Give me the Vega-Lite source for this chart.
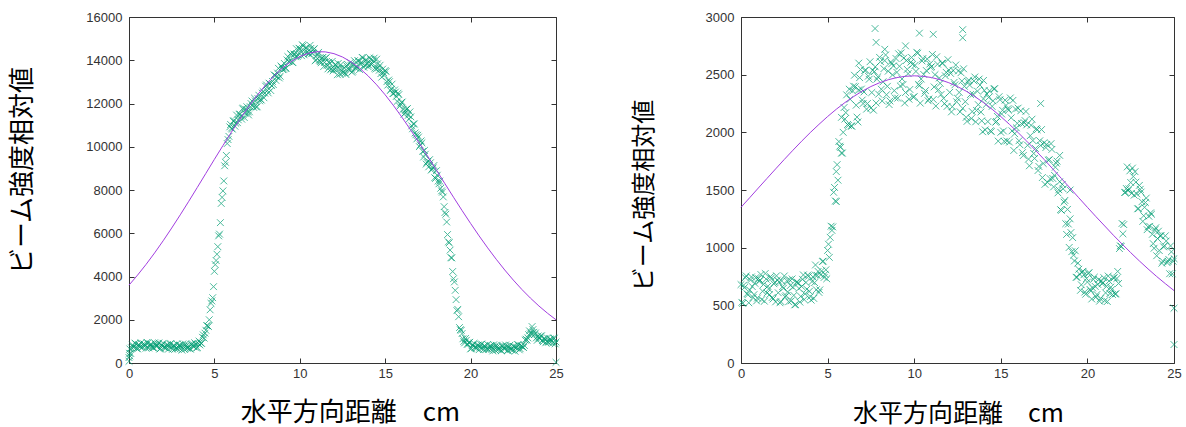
{
"$schema": "https://vega.github.io/schema/vega-lite/v6.json",
"autosize": {"type": "pad"},
"padding": {"left": 8, "top": 10, "right": 5, "bottom": 0},
"background": "white",
"spacing": 185,
"bounds": "flush",
"config": {
  "view": {"stroke": "#333", "strokeWidth": 1},
  "axis": {"grid": false, "domain": false, "labelFlush": false, "labelFont": "Liberation Sans", "labelFontSize": 13, "labelColor": "#333", "tickColor": "#333", "tickSize": -5, "tickWidth": 1, "titleFont": "Noto Sans CJK JP", "titleFontSize": 26, "titleFontWeight": "normal", "titleColor": "#000", "format": "d"}
},
"datasets": {
"L": [
{"x":0,"y":250},{"x":0,"y":80},{"x":0.03,"y":450},{"x":0.05,"y":650},{"x":0.1,"y":445},{"x":0.2,"y":835},{"x":0.3,"y":750},{"x":0.4,"y":880},{"x":0.5,"y":650},{"x":0.6,"y":820},{"x":0.7,"y":930},{"x":0.8,"y":740},{"x":0.9,"y":860},{"x":1.0,"y":685},{"x":1.1,"y":923},{"x":1.2,"y":770},{"x":1.3,"y":870},{"x":1.4,"y":700},{"x":1.5,"y":935},{"x":1.6,"y":768},{"x":1.7,"y":886},{"x":1.8,"y":644},{"x":1.9,"y":807},{"x":2.0,"y":910},{"x":2.1,"y":709},{"x":2.2,"y":823},{"x":2.3,"y":637},{"x":2.4,"y":871},{"x":2.5,"y":715},{"x":2.6,"y":816},{"x":2.7,"y":647},{"x":2.8,"y":883},{"x":2.9,"y":714},{"x":3.0,"y":830},{"x":3.1,"y":594},{"x":3.2,"y":763},{"x":3.3,"y":872},{"x":3.4,"y":681},{"x":3.5,"y":805},{"x":3.6,"y":637},{"x":3.7,"y":889},{"x":3.8,"y":751},{"x":3.9,"y":868},{"x":4.0,"y":715},{"x":4.1,"y":1015},{"x":4.2,"y":920},{"x":4.3,"y":1190},{"x":4.4,"y":1150},{"x":4.5,"y":1515},{"x":4.6,"y":1720},{"x":4.7,"y":2000},{"x":4.8,"y":2760},{"x":4.9,"y":3020},{"x":5.0,"y":4240},{"x":5.1,"y":4740},{"x":5.2,"y":5380},{"x":5.3,"y":5960},{"x":5.4,"y":7380},{"x":5.5,"y":7960},{"x":5.6,"y":9120},{"x":5.7,"y":9600},{"x":5.8,"y":10330},{"x":5.9,"y":10920},{"x":6.0,"y":10860},
{"x":6.1,"y":11185},{"x":6.2,"y":10950},{"x":6.3,"y":11465},{"x":6.4,"y":11245},{"x":6.5,"y":11510},{"x":6.6,"y":11275},{"x":6.7,"y":11790},{"x":6.8,"y":11555},{"x":6.9,"y":11850},{"x":7.0,"y":11470},{"x":7.1,"y":11850},{"x":7.2,"y":12115},{"x":7.3,"y":11820},{"x":7.4,"y":12115},{"x":7.5,"y":11850},{"x":7.6,"y":12385},{"x":7.7,"y":12195},{"x":7.8,"y":12480},{"x":7.9,"y":12265},{"x":8.0,"y":12800},{"x":8.1,"y":12605},{"x":8.2,"y":12940},{"x":8.3,"y":12600},{"x":8.4,"y":13020},{"x":8.5,"y":13325},{"x":8.6,"y":13070},{"x":8.7,"y":13405},{"x":8.8,"y":13180},{"x":8.9,"y":13735},{"x":9.0,"y":13565},{"x":9.1,"y":13850},{"x":9.2,"y":13635},{"x":9.3,"y":14170},{"x":9.4,"y":13955},{"x":9.5,"y":14270},{"x":9.6,"y":13890},{"x":9.7,"y":14270},{"x":9.8,"y":14535},{"x":9.9,"y":14240},{"x":10.0,"y":14535},{"x":10.1,"y":14210},{"x":10.2,"y":14665},{"x":10.3,"y":14395},{"x":10.4,"y":14600},{"x":10.5,"y":14305},{"x":10.6,"y":14690},{"x":10.7,"y":14325},{"x":10.8,"y":14490},{"x":10.9,"y":13980},{"x":11.0,"y":14230},{"x":11.1,"y":14365},{"x":11.2,"y":13940},{"x":11.3,"y":14105},{"x":11.4,"y":13710},{"x":11.5,"y":14095},{"x":11.6,"y":13765},{"x":11.7,"y":13910},{"x":11.8,"y":13555},{"x":11.9,"y":13950},{"x":12.0,"y":13595},
{"x":12.1,"y":13800},{"x":12.2,"y":13330},{"x":12.3,"y":13620},{"x":12.4,"y":13795},{"x":12.5,"y":13410},{"x":12.6,"y":13655},{"x":12.7,"y":13340},{"x":12.8,"y":13805},{"x":12.9,"y":13545},{"x":13.0,"y":13760},{"x":13.1,"y":13495},{"x":13.2,"y":13980},{"x":13.3,"y":13715},{"x":13.4,"y":13980},{"x":13.5,"y":13570},{"x":13.6,"y":13900},{"x":13.7,"y":14115},{"x":13.8,"y":13770},{"x":13.9,"y":14015},{"x":14.0,"y":13700},{"x":14.1,"y":14115},{"x":14.2,"y":13805},{"x":14.3,"y":13970},{"x":14.4,"y":13635},{"x":14.5,"y":14050},{"x":14.6,"y":13645},{"x":14.7,"y":13770},{"x":14.8,"y":13220},{"x":14.9,"y":13430},{"x":15.0,"y":13525},{"x":15.1,"y":13010},{"x":15.2,"y":13085},{"x":15.3,"y":12600},{"x":15.4,"y":12895},{"x":15.5,"y":12465},{"x":15.6,"y":12530},{"x":15.7,"y":12095},{"x":15.8,"y":12410},{"x":15.9,"y":11975},{"x":16.0,"y":12070},{"x":16.1,"y":11500},{"x":16.2,"y":11690},{"x":16.3,"y":11765},{"x":16.4,"y":11280},{"x":16.5,"y":11385},{"x":16.6,"y":10830},{"x":16.7,"y":11055},{"x":16.8,"y":10555},{"x":16.9,"y":10530},{"x":17.0,"y":10005},{"x":17.1,"y":10270},{"x":17.2,"y":9785},{"x":17.3,"y":9830},{"x":17.4,"y":9200},{"x":17.5,"y":9330},{"x":17.6,"y":9405},{"x":17.7,"y":8920},{"x":17.8,"y":9025},{"x":17.9,"y":8570},{"x":18.0,"y":8895},
{"x":18.1,"y":8415},{"x":18.2,"y":8410},{"x":18.3,"y":7960},{"x":18.4,"y":7680},{"x":18.5,"y":6960},{"x":18.6,"y":6520},{"x":18.7,"y":5600},{"x":18.8,"y":5220},{"x":18.9,"y":4860},{"x":19.0,"y":3900},{"x":19.1,"y":3360},{"x":19.2,"y":2420},{"x":19.3,"y":2140},{"x":19.4,"y":1540},{"x":19.5,"y":1360},{"x":19.6,"y":1000},{"x":19.7,"y":1135},{"x":19.8,"y":870},{"x":19.9,"y":940},{"x":20.0,"y":650},{"x":20.1,"y":810},{"x":20.2,"y":910},{"x":20.3,"y":705},{"x":20.4,"y":815},{"x":20.5,"y":615},{"x":20.6,"y":850},{"x":20.7,"y":695},{"x":20.8,"y":795},{"x":20.9,"y":623},{"x":21.0,"y":855},{"x":21.1,"y":686},{"x":21.2,"y":802},{"x":21.3,"y":558},{"x":21.4,"y":719},{"x":21.5,"y":820},{"x":21.6,"y":625},{"x":21.7,"y":745},{"x":21.8,"y":565},{"x":21.9,"y":805},{"x":22.0,"y":655},{"x":22.1,"y":756},{"x":22.2,"y":587},{"x":22.3,"y":823},{"x":22.4,"y":654},{"x":22.5,"y":770},{"x":22.6,"y":544},{"x":22.7,"y":723},{"x":22.8,"y":842},{"x":22.9,"y":661},{"x":23.0,"y":795},{"x":23.1,"y":715},{"x":23.2,"y":1055},{"x":23.3,"y":1055},{"x":23.4,"y":1310},{"x":23.5,"y":1345},{"x":23.6,"y":1685},{"x":23.7,"y":1420},{"x":23.8,"y":1390},{"x":23.9,"y":1050},{"x":24.0,"y":1165},{"x":24.1,"y":1250},{"x":24.2,"y":1035},{"x":24.3,"y":1135},{"x":24.4,"y":935},{"x":24.5,"y":1155},{"x":24.6,"y":995},{"x":24.7,"y":1090},{"x":24.8,"y":915},{"x":24.9,"y":1145},{"x":25.0,"y":970},{"x":25.0,"y":30},
{"x":0.05,"y":330},{"x":0.15,"y":700},{"x":0.25,"y":725},{"x":0.35,"y":920},{"x":0.45,"y":675},{"x":0.55,"y":847},{"x":0.65,"y":747},{"x":0.75,"y":721},{"x":0.85,"y":888},{"x":0.95,"y":802},{"x":1.05,"y":954},{"x":1.15,"y":696},{"x":1.25,"y":857},{"x":1.35,"y":747},{"x":1.45,"y":712},{"x":1.55,"y":874},{"x":1.65,"y":782},{"x":1.75,"y":930},{"x":1.85,"y":673},{"x":1.95,"y":836},{"x":2.05,"y":727},{"x":2.15,"y":691},{"x":2.25,"y":850},{"x":2.35,"y":754},{"x":2.45,"y":898},{"x":2.55,"y":638},{"x":2.65,"y":799},{"x":2.75,"y":690},{"x":2.85,"y":656},{"x":2.95,"y":817},{"x":3.05,"y":727},{"x":3.15,"y":881},{"x":3.25,"y":630},{"x":3.35,"y":799},{"x":3.45,"y":698},{"x":3.55,"y":676},{"x":3.65,"y":853},{"x":3.75,"y":775},{"x":3.85,"y":937},{"x":3.95,"y":694},{"x":4.05,"y":895},{"x":4.15,"y":835},{"x":4.25,"y":905},{"x":4.35,"y":1300},{"x":4.45,"y":1380},{"x":4.55,"y":1730},{"x":4.65,"y":1690},{"x":4.75,"y":2460},{"x":4.85,"y":2870},{"x":4.95,"y":3530},{"x":5.05,"y":4550},{"x":5.15,"y":5030},{"x":5.25,"y":5880},{"x":5.35,"y":6490},{"x":5.45,"y":7660},{"x":5.55,"y":8420},{"x":5.65,"y":9280},{"x":5.75,"y":10150},{"x":5.85,"y":10480},{"x":5.95,"y":11030},
{"x":6.05,"y":10816},{"x":6.15,"y":11204},{"x":6.25,"y":11088},{"x":6.35,"y":11112},{"x":6.45,"y":11500},{"x":6.55,"y":11407},{"x":6.65,"y":11757},{"x":6.75,"y":11351},{"x":6.85,"y":11729},{"x":6.95,"y":11603},{"x":7.05,"y":11617},{"x":7.15,"y":11995},{"x":7.25,"y":11897},{"x":7.35,"y":12247},{"x":7.45,"y":11841},{"x":7.55,"y":12229},{"x":7.65,"y":12123},{"x":7.75,"y":12157},{"x":7.85,"y":12555},{"x":7.95,"y":12477},{"x":8.05,"y":12857},{"x":8.15,"y":12491},{"x":8.25,"y":12909},{"x":8.35,"y":12823},{"x":8.45,"y":12877},{"x":8.55,"y":13295},{"x":8.65,"y":13237},{"x":8.75,"y":13627},{"x":8.85,"y":13261},{"x":8.95,"y":13679},{"x":9.05,"y":13583},{"x":9.15,"y":13617},{"x":9.25,"y":14015},{"x":9.35,"y":13937},{"x":9.45,"y":14307},{"x":9.55,"y":13911},{"x":9.65,"y":14289},{"x":9.75,"y":14163},{"x":9.85,"y":14177},{"x":9.95,"y":14555},{"x":10.05,"y":14427},{"x":10.15,"y":14717},{"x":10.25,"y":14251},{"x":10.35,"y":14569},{"x":10.45,"y":14383},{"x":10.55,"y":14302},{"x":10.65,"y":14550},{"x":10.75,"y":14322},{"x":10.85,"y":14542},{"x":10.95,"y":14006},{"x":11.05,"y":14254},{"x":11.15,"y":13998},{"x":11.25,"y":13882},{"x":11.35,"y":14130},{"x":11.45,"y":13902},{"x":11.55,"y":14127},{"x":11.65,"y":13601},{"x":11.75,"y":13859},{"x":11.85,"y":13613},{"x":11.95,"y":13507},
{"x":12.05,"y":13780},{"x":12.15,"y":13592},{"x":12.25,"y":13852},{"x":12.35,"y":13356},{"x":12.45,"y":13644},{"x":12.55,"y":13448},{"x":12.65,"y":13412},{"x":12.75,"y":13740},{"x":12.85,"y":13592},{"x":12.95,"y":13892},{"x":13.05,"y":13446},{"x":13.15,"y":13794},{"x":13.25,"y":13638},{"x":13.35,"y":13622},{"x":13.45,"y":13970},{"x":13.55,"y":13832},{"x":13.65,"y":14132},{"x":13.75,"y":13676},{"x":13.85,"y":14004},{"x":13.95,"y":13828},{"x":14.05,"y":13767},{"x":14.15,"y":14045},{"x":14.25,"y":13847},{"x":14.35,"y":14097},{"x":14.45,"y":13591},{"x":14.55,"y":13834},{"x":14.65,"y":13538},{"x":14.75,"y":13382},{"x":14.85,"y":13590},{"x":14.95,"y":13322},{"x":15.05,"y":13477},{"x":15.15,"y":12851},{"x":15.25,"y":13009},{"x":15.35,"y":12663},{"x":15.45,"y":12457},{"x":15.55,"y":12625},{"x":15.65,"y":12327},{"x":15.75,"y":12477},{"x":15.85,"y":11871},{"x":15.95,"y":12049},{"x":16.05,"y":11728},{"x":16.15,"y":11552},{"x":16.25,"y":11740},{"x":16.35,"y":11452},{"x":16.45,"y":11612},{"x":16.55,"y":10966},{"x":16.65,"y":11054},{"x":16.75,"y":10638},{"x":16.85,"y":10362},{"x":16.95,"y":10450},{"x":17.05,"y":10082},{"x":17.15,"y":10182},{"x":17.25,"y":9526},{"x":17.35,"y":9654},{"x":17.45,"y":9278},{"x":17.55,"y":9072},{"x":17.65,"y":9260},{"x":17.75,"y":8972},{"x":17.85,"y":9132},{"x":17.95,"y":8536},
{"x":18.05,"y":8684},{"x":18.15,"y":8288},{"x":18.25,"y":8080},{"x":18.35,"y":7900},{"x":18.45,"y":7230},{"x":18.55,"y":6880},{"x":18.65,"y":5940},{"x":18.75,"y":5560},{"x":18.85,"y":4870},{"x":18.95,"y":4230},{"x":19.05,"y":3750},{"x":19.15,"y":2930},{"x":19.25,"y":2480},{"x":19.35,"y":1640},{"x":19.45,"y":1510},{"x":19.55,"y":1120},{"x":19.65,"y":930},{"x":19.75,"y":1050},{"x":19.85,"y":860},{"x":19.95,"y":960},{"x":20.05,"y":678},{"x":20.15,"y":837},{"x":20.25,"y":725},{"x":20.35,"y":685},{"x":20.45,"y":835},{"x":20.55,"y":733},{"x":20.65,"y":878},{"x":20.75,"y":618},{"x":20.85,"y":777},{"x":20.95,"y":664},{"x":21.05,"y":628},{"x":21.15,"y":789},{"x":21.25,"y":695},{"x":21.35,"y":841},{"x":21.45,"y":582},{"x":21.55,"y":745},{"x":21.65,"y":640},{"x":21.75,"y":610},{"x":21.85,"y":775},{"x":21.95,"y":685},{"x":22.05,"y":833},{"x":22.15,"y":574},{"x":22.25,"y":735},{"x":22.35,"y":626},{"x":22.45,"y":592},{"x":22.55,"y":762},{"x":22.65,"y":686},{"x":22.75,"y":850},{"x":22.85,"y":609},{"x":22.95,"y":788},{"x":23.05,"y":740},{"x":23.15,"y":810},{"x":23.25,"y":1100},{"x":23.35,"y":1160},{"x":23.45,"y":1485},{"x":23.55,"y":1380},{"x":23.65,"y":1545},{"x":23.75,"y":1315},{"x":23.85,"y":1160},{"x":23.95,"y":1250},{"x":24.05,"y":1125},{"x":24.15,"y":1255},{"x":24.25,"y":980},{"x":24.35,"y":1125},{"x":24.45,"y":1000},{"x":24.55,"y":955},{"x":24.65,"y":1110},{"x":24.75,"y":1010},{"x":24.85,"y":1150},{"x":24.95,"y":885}
],
"Lfit": [
{"x":0,"y":3600},{"x":0.5,"y":4063},{"x":1,"y":4560},{"x":1.5,"y":5091},{"x":2,"y":5652},{"x":2.5,"y":6241},{"x":3,"y":6850},{"x":3.5,"y":7479},{"x":4,"y":8120},{"x":4.5,"y":8770},{"x":5,"y":9417},{"x":5.5,"y":10055},{"x":6,"y":10681},{"x":6.5,"y":11281},{"x":7,"y":11850},{"x":7.5,"y":12378},{"x":8,"y":12859},{"x":8.5,"y":13286},{"x":9,"y":13650},{"x":9.5,"y":13948},{"x":10,"y":14172},{"x":10.5,"y":14322},{"x":11,"y":14394},{"x":11.5,"y":14387},{"x":12,"y":14305},{"x":12.5,"y":14150},{"x":13,"y":13925},{"x":13.5,"y":13632},{"x":14,"y":13277},{"x":14.5,"y":12864},{"x":15,"y":12400},{"x":15.5,"y":11889},{"x":16,"y":11342},{"x":16.5,"y":10763},{"x":17,"y":10162},{"x":17.5,"y":9544},{"x":18,"y":8918},{"x":18.5,"y":8290},{"x":19,"y":7665},{"x":19.5,"y":7052},{"x":20,"y":6454},{"x":20.5,"y":5877},{"x":21,"y":5324},{"x":21.5,"y":4797},{"x":22,"y":4300},{"x":22.5,"y":3835},{"x":23,"y":3403},{"x":23.5,"y":3003},{"x":24,"y":2637},{"x":24.5,"y":2303},{"x":25,"y":2000}
],
"R": [
{"x":0.0,"y":680},{"x":0.1,"y":517},{"x":0.2,"y":654},{"x":0.3,"y":755},{"x":0.4,"y":592},{"x":0.5,"y":633},{"x":0.6,"y":746},{"x":0.7,"y":568},{"x":0.8,"y":691},{"x":0.9,"y":538},{"x":1.0,"y":732},{"x":1.1,"y":719},{"x":1.2,"y":550},{"x":1.3,"y":681},{"x":1.4,"y":776},{"x":1.5,"y":607},{"x":1.6,"y":642},{"x":1.7,"y":749},{"x":1.8,"y":568},{"x":1.9,"y":687},{"x":2.0,"y":530},{"x":2.1,"y":719},{"x":2.2,"y":704},{"x":2.3,"y":533},{"x":2.4,"y":662},{"x":2.5,"y":755},{"x":2.6,"y":584},{"x":2.7,"y":617},{"x":2.8,"y":722},{"x":2.9,"y":539},{"x":3.0,"y":656},{"x":3.1,"y":504},{"x":3.2,"y":700},{"x":3.3,"y":692},{"x":3.4,"y":528},{"x":3.5,"y":664},{"x":3.6,"y":764},{"x":3.7,"y":600},{"x":3.8,"y":640},{"x":3.9,"y":752},{"x":4.0,"y":576},{"x":4.1,"y":706},{"x":4.2,"y":560},{"x":4.3,"y":762},{"x":4.4,"y":760},{"x":4.5,"y":612},{"x":4.6,"y":764},{"x":4.7,"y":880},{"x":4.8,"y":742},{"x":4.9,"y":808},{"x":5.0,"y":976},{"x":5.1,"y":916},{"x":5.2,"y":1186},{"x":5.3,"y":1180},{"x":5.4,"y":1522},{"x":5.5,"y":1660},{"x":5.6,"y":1585},{"x":5.7,"y":1880},{"x":5.8,"y":2130},{"x":5.9,"y":2000},{"x":6.0,"y":2115},
{"x":6.1,"y":2325},{"x":6.2,"y":2060},{"x":6.3,"y":2287},{"x":6.4,"y":2053},{"x":6.5,"y":2400},{"x":6.6,"y":2396},{"x":6.7,"y":2132},{"x":6.8,"y":2368},{"x":6.9,"y":2544},{"x":7.0,"y":2280},{"x":7.1,"y":2350},{"x":7.2,"y":2540},{"x":7.3,"y":2250},{"x":7.4,"y":2460},{"x":7.5,"y":2210},{"x":7.6,"y":2538},{"x":7.7,"y":2526},{"x":7.8,"y":2254},{"x":7.9,"y":2482},{"x":8.0,"y":2650},{"x":8.1,"y":2374},{"x":8.2,"y":2438},{"x":8.3,"y":2622},{"x":8.4,"y":2326},{"x":8.5,"y":2530},{"x":8.6,"y":2272},{"x":8.7,"y":2594},{"x":8.8,"y":2576},{"x":8.9,"y":2298},{"x":9.0,"y":2520},{"x":9.1,"y":2681},{"x":9.2,"y":2402},{"x":9.3,"y":2463},{"x":9.4,"y":2644},{"x":9.5,"y":2345},{"x":9.6,"y":2546},{"x":9.7,"y":2287},{"x":9.8,"y":2608},{"x":9.9,"y":2589},{"x":10.0,"y":2310},{"x":10.1,"y":2528},{"x":10.2,"y":2686},{"x":10.3,"y":2404},{"x":10.4,"y":2462},{"x":10.5,"y":2640},{"x":10.6,"y":2338},{"x":10.7,"y":2536},{"x":10.8,"y":2274},{"x":10.9,"y":2592},{"x":11.0,"y":2570},{"x":11.1,"y":2285},{"x":11.2,"y":2500},{"x":11.3,"y":2655},{"x":11.4,"y":2370},{"x":11.5,"y":2425},{"x":11.6,"y":2600},{"x":11.7,"y":2295},{"x":11.8,"y":2490},{"x":11.9,"y":2225},{"x":12.0,"y":2540},
{"x":12.1,"y":2511},{"x":12.2,"y":2222},{"x":12.3,"y":2433},{"x":12.4,"y":2584},{"x":12.5,"y":2295},{"x":12.6,"y":2346},{"x":12.7,"y":2517},{"x":12.8,"y":2208},{"x":12.9,"y":2399},{"x":13.0,"y":2130},{"x":13.1,"y":2440},{"x":13.2,"y":2410},{"x":13.3,"y":2120},{"x":13.4,"y":2330},{"x":13.5,"y":2480},{"x":13.6,"y":2190},{"x":13.7,"y":2240},{"x":13.8,"y":2410},{"x":13.9,"y":2100},{"x":14.0,"y":2290},{"x":14.1,"y":2021},{"x":14.2,"y":2332},{"x":14.3,"y":2303},{"x":14.4,"y":2014},{"x":14.5,"y":2225},{"x":14.6,"y":2376},{"x":14.7,"y":2087},{"x":14.8,"y":2138},{"x":14.9,"y":2309},{"x":15.0,"y":2000},{"x":15.1,"y":2191},{"x":15.2,"y":1922},{"x":15.3,"y":2233},{"x":15.4,"y":2204},{"x":15.5,"y":1915},{"x":15.6,"y":2126},{"x":15.7,"y":2277},{"x":15.8,"y":1988},{"x":15.9,"y":2039},{"x":16.0,"y":2210},{"x":16.1,"y":1893},{"x":16.2,"y":2076},{"x":16.3,"y":1799},{"x":16.4,"y":2102},{"x":16.5,"y":2065},{"x":16.6,"y":1768},{"x":16.7,"y":1971},{"x":16.8,"y":2114},{"x":16.9,"y":1817},{"x":17.0,"y":1860},{"x":17.1,"y":2022},{"x":17.2,"y":1704},{"x":17.3,"y":1886},{"x":17.4,"y":1608},{"x":17.5,"y":1910},{"x":17.6,"y":1868},{"x":17.7,"y":1566},{"x":17.8,"y":1764},{"x":17.9,"y":1902},{"x":18.0,"y":1600},
{"x":18.1,"y":1627},{"x":18.2,"y":1733},{"x":18.3,"y":1475},{"x":18.4,"y":1572},{"x":18.5,"y":1323},{"x":18.6,"y":1510},{"x":18.7,"y":1410},{"x":18.8,"y":1115},{"x":18.9,"y":1205},{"x":19.0,"y":1250},{"x":19.1,"y":965},{"x":19.2,"y":935},{"x":19.3,"y":973},{"x":19.4,"y":743},{"x":19.5,"y":813},{"x":19.6,"y":630},{"x":19.7,"y":791},{"x":19.8,"y":765},{"x":19.9,"y":596},{"x":20.0,"y":702},{"x":20.1,"y":784},{"x":20.2,"y":624},{"x":20.3,"y":651},{"x":20.4,"y":744},{"x":20.5,"y":573},{"x":20.6,"y":681},{"x":20.7,"y":536},{"x":20.8,"y":710},{"x":20.9,"y":697},{"x":21.0,"y":541},{"x":21.1,"y":664},{"x":21.2,"y":754},{"x":21.3,"y":602},{"x":21.4,"y":637},{"x":21.5,"y":738},{"x":21.6,"y":598},{"x":21.7,"y":733},{"x":21.8,"y":690},{"x":21.9,"y":1016},{"x":22.0,"y":1210},{"x":22.1,"y":1200},{"x":22.2,"y":1480},{"x":22.3,"y":1700},{"x":22.4,"y":1510},{"x":22.5,"y":1565},{"x":22.6,"y":1690},{"x":22.7,"y":1455},{"x":22.8,"y":1568},{"x":22.9,"y":1337},{"x":23.0,"y":1540},{"x":23.1,"y":1482},{"x":23.2,"y":1228},{"x":23.3,"y":1350},{"x":23.4,"y":1430},{"x":23.5,"y":1180},{"x":23.6,"y":1185},{"x":23.7,"y":1290},{"x":23.8,"y":1035},{"x":23.9,"y":1155},{"x":24.0,"y":930},{"x":24.1,"y":1143},{"x":24.2,"y":1102},{"x":24.3,"y":865},{"x":24.4,"y":1007},{"x":24.5,"y":1103},{"x":24.6,"y":870},{"x":24.7,"y":898},{"x":24.8,"y":1015},{"x":24.9,"y":773},{"x":25.0,"y":905},
{"x":25.0,"y":475},{"x":25.0,"y":160},{"x":7.74,"y":2900},{"x":7.8,"y":2780},{"x":10.3,"y":2860},{"x":12.8,"y":2890},{"x":12.8,"y":2820},{"x":8.3,"y":2720},{"x":9.5,"y":2750},{"x":11.1,"y":2850},{"x":6.8,"y":2600},{"x":5.8,"y":1820},{"x":4.3,"y":850},{"x":5.5,"y":1400},{"x":19.0,"y":1500},{"x":17.3,"y":2250},{"x":14.0,"y":2450},{"x":18.4,"y":1800},
{"x":0.05,"y":526},{"x":0.15,"y":675},{"x":0.25,"y":740},{"x":0.35,"y":601},{"x":0.45,"y":522},{"x":0.55,"y":719},{"x":0.65,"y":663},{"x":0.75,"y":593},{"x":0.85,"y":740},{"x":0.95,"y":563},{"x":1.05,"y":708},{"x":1.15,"y":767},{"x":1.25,"y":622},{"x":1.35,"y":536},{"x":1.45,"y":727},{"x":1.55,"y":666},{"x":1.65,"y":593},{"x":1.75,"y":736},{"x":1.85,"y":555},{"x":1.95,"y":698},{"x":2.05,"y":756},{"x":2.15,"y":609},{"x":2.25,"y":522},{"x":2.35,"y":711},{"x":2.45,"y":648},{"x":2.55,"y":573},{"x":2.65,"y":714},{"x":2.75,"y":531},{"x":2.85,"y":672},{"x":2.95,"y":729},{"x":3.05,"y":586},{"x":3.15,"y":506},{"x":3.25,"y":702},{"x":3.35,"y":646},{"x":3.45,"y":578},{"x":3.55,"y":726},{"x":3.65,"y":550},{"x":3.75,"y":698},{"x":3.85,"y":762},{"x":3.95,"y":622},{"x":4.05,"y":545},{"x":4.15,"y":747},{"x":4.25,"y":697},{"x":4.35,"y":635},{"x":4.45,"y":794},{"x":4.55,"y":634},{"x":4.65,"y":798},{"x":4.75,"y":883},{"x":4.85,"y":769},{"x":4.95,"y":730},{"x":5.05,"y":1030},{"x":5.15,"y":1090},{"x":5.25,"y":1150},{"x":5.35,"y":1480},{"x":5.45,"y":1405},{"x":5.55,"y":1720},{"x":5.65,"y":1920},{"x":5.75,"y":1870},{"x":5.85,"y":1820},{"x":5.95,"y":2215},
{"x":6.05,"y":2171},{"x":6.15,"y":2068},{"x":6.25,"y":2374},{"x":6.35,"y":2056},{"x":6.45,"y":2358},{"x":6.55,"y":2495},{"x":6.65,"y":2235},{"x":6.75,"y":2090},{"x":6.85,"y":2474},{"x":6.95,"y":2375},{"x":7.05,"y":2250},{"x":7.15,"y":2536},{"x":7.25,"y":2201},{"x":7.35,"y":2487},{"x":7.45,"y":2612},{"x":7.55,"y":2345},{"x":7.65,"y":2192},{"x":7.75,"y":2568},{"x":7.85,"y":2461},{"x":7.95,"y":2331},{"x":8.05,"y":2613},{"x":8.15,"y":2272},{"x":8.25,"y":2552},{"x":8.35,"y":2671},{"x":8.45,"y":2399},{"x":8.55,"y":2241},{"x":8.65,"y":2611},{"x":8.75,"y":2498},{"x":8.85,"y":2362},{"x":8.95,"y":2640},{"x":9.05,"y":2296},{"x":9.15,"y":2573},{"x":9.25,"y":2689},{"x":9.35,"y":2414},{"x":9.45,"y":2254},{"x":9.55,"y":2623},{"x":9.65,"y":2509},{"x":9.75,"y":2372},{"x":9.85,"y":2649},{"x":9.95,"y":2305},{"x":10.05,"y":2581},{"x":10.15,"y":2694},{"x":10.25,"y":2416},{"x":10.35,"y":2253},{"x":10.45,"y":2619},{"x":10.55,"y":2502},{"x":10.65,"y":2362},{"x":10.75,"y":2636},{"x":10.85,"y":2289},{"x":10.95,"y":2563},{"x":11.05,"y":2675},{"x":11.15,"y":2394},{"x":11.25,"y":2228},{"x":11.35,"y":2591},{"x":11.45,"y":2471},{"x":11.55,"y":2328},{"x":11.65,"y":2599},{"x":11.75,"y":2249},{"x":11.85,"y":2520},{"x":11.95,"y":2630},
{"x":12.05,"y":2347},{"x":12.15,"y":2177},{"x":12.25,"y":2536},{"x":12.35,"y":2412},{"x":12.45,"y":2265},{"x":12.55,"y":2532},{"x":12.65,"y":2178},{"x":12.75,"y":2445},{"x":12.85,"y":2551},{"x":12.95,"y":2266},{"x":13.05,"y":2095},{"x":13.15,"y":2453},{"x":13.25,"y":2328},{"x":13.35,"y":2180},{"x":13.45,"y":2446},{"x":13.55,"y":2091},{"x":13.65,"y":2357},{"x":13.75,"y":2462},{"x":13.85,"y":2176},{"x":13.95,"y":2005},{"x":14.05,"y":2364},{"x":14.15,"y":2240},{"x":14.25,"y":2093},{"x":14.35,"y":2360},{"x":14.45,"y":2006},{"x":14.55,"y":2273},{"x":14.65,"y":2379},{"x":14.75,"y":2094},{"x":14.85,"y":1924},{"x":14.95,"y":2283},{"x":15.05,"y":2159},{"x":15.15,"y":2012},{"x":15.25,"y":2279},{"x":15.35,"y":1925},{"x":15.45,"y":2192},{"x":15.55,"y":2298},{"x":15.65,"y":2013},{"x":15.75,"y":1843},{"x":15.85,"y":2202},{"x":15.95,"y":2078},{"x":16.05,"y":1927},{"x":16.15,"y":2186},{"x":16.25,"y":1824},{"x":16.35,"y":2083},{"x":16.45,"y":2181},{"x":16.55,"y":1888},{"x":16.65,"y":1710},{"x":16.75,"y":2061},{"x":16.85,"y":1929},{"x":16.95,"y":1774},{"x":17.05,"y":2032},{"x":17.15,"y":1669},{"x":17.25,"y":1927},{"x":17.35,"y":2024},{"x":17.45,"y":1730},{"x":17.55,"y":1549},{"x":17.65,"y":1895},{"x":17.75,"y":1758},{"x":17.85,"y":1598},{"x":17.95,"y":1852},
{"x":18.05,"y":1527},{"x":18.15,"y":1698},{"x":18.25,"y":1750},{"x":18.35,"y":1502},{"x":18.45,"y":1330},{"x":18.55,"y":1549},{"x":18.65,"y":1395},{"x":18.75,"y":1208},{"x":18.85,"y":1332},{"x":18.95,"y":1002},{"x":19.05,"y":1131},{"x":19.15,"y":1087},{"x":19.25,"y":885},{"x":19.35,"y":743},{"x":19.45,"y":866},{"x":19.55,"y":771},{"x":19.65,"y":678},{"x":19.75,"y":795},{"x":19.85,"y":615},{"x":19.95,"y":732},{"x":20.05,"y":776},{"x":20.15,"y":638},{"x":20.25,"y":555},{"x":20.35,"y":725},{"x":20.45,"y":664},{"x":20.55,"y":594},{"x":20.65,"y":724},{"x":20.75,"y":557},{"x":20.85,"y":687},{"x":20.95,"y":740},{"x":21.05,"y":608},{"x":21.15,"y":533},{"x":21.25,"y":711},{"x":21.35,"y":658},{"x":21.45,"y":594},{"x":21.55,"y":739},{"x":21.65,"y":600},{"x":21.75,"y":794},{"x":21.85,"y":992},{"x":21.95,"y":1011},{"x":22.05,"y":1120},{"x":22.15,"y":1478},{"x":22.25,"y":1513},{"x":22.35,"y":1495},{"x":22.45,"y":1666},{"x":22.55,"y":1471},{"x":22.65,"y":1617},{"x":22.75,"y":1659},{"x":22.85,"y":1466},{"x":22.95,"y":1338},{"x":23.05,"y":1506},{"x":23.15,"y":1398},{"x":23.25,"y":1277},{"x":23.35,"y":1391},{"x":23.45,"y":1156},{"x":23.55,"y":1272},{"x":23.65,"y":1302},{"x":23.75,"y":1116},{"x":23.85,"y":995},{"x":23.95,"y":1173},{"x":24.05,"y":1079},{"x":24.15,"y":975},{"x":24.25,"y":1104},{"x":24.35,"y":884},{"x":24.45,"y":1017},{"x":24.55,"y":1058},{"x":24.65,"y":882},{"x":24.75,"y":774},{"x":24.85,"y":964},{"x":24.95,"y":882}
],
"Rfit": [
{"x":0,"y":1350},{"x":0.5,"y":1433},{"x":1,"y":1517},{"x":1.5,"y":1600},{"x":2,"y":1683},{"x":2.5,"y":1765},{"x":3,"y":1845},{"x":3.5,"y":1923},{"x":4,"y":1998},{"x":4.5,"y":2069},{"x":5,"y":2137},{"x":5.5,"y":2200},{"x":6,"y":2258},{"x":6.5,"y":2310},{"x":7,"y":2357},{"x":7.5,"y":2397},{"x":8,"y":2430},{"x":8.5,"y":2456},{"x":9,"y":2475},{"x":9.5,"y":2486},{"x":10,"y":2490},{"x":10.5,"y":2486},{"x":11,"y":2475},{"x":11.5,"y":2456},{"x":12,"y":2430},{"x":12.5,"y":2397},{"x":13,"y":2357},{"x":13.5,"y":2310},{"x":14,"y":2258},{"x":14.5,"y":2200},{"x":15,"y":2137},{"x":15.5,"y":2069},{"x":16,"y":1998},{"x":16.5,"y":1923},{"x":17,"y":1845},{"x":17.5,"y":1765},{"x":18,"y":1683},{"x":18.5,"y":1600},{"x":19,"y":1517},{"x":19.5,"y":1433},{"x":20,"y":1350},{"x":20.5,"y":1268},{"x":21,"y":1188},{"x":21.5,"y":1108},{"x":22,"y":1032},{"x":22.5,"y":957},{"x":23,"y":885},{"x":23.5,"y":816},{"x":24,"y":750},{"x":24.5,"y":688},{"x":25,"y":628}
]
},
"hconcat": [
{
  "width": 427, "height": 346,
  "resolve": {"axis": {"x": "independent", "y": "independent"}},
  "layer": [
    {
      "data": {"name": "L"},
      "mark": {"type": "point", "shape": "M-1,-1L1,1M-1,1L1,-1", "filled": false, "stroke": "#009e73", "strokeWidth": 1, "opacity": 0.7, "size": 46},
      "encoding": {
        "x": {"field": "x", "type": "quantitative", "scale": {"domain": [0, 25], "nice": false}, "axis": {"orient": "bottom", "values": [0,5,10,15,20,25], "title": "水平方向距離　cm", "titleX": 221, "titleY": 49, "titleAlign": "center", "titleBaseline": "middle", "labelPadding": 9}},
        "y": {"field": "y", "type": "quantitative", "scale": {"domain": [0, 16000], "nice": false}, "axis": {"orient": "left", "values": [0,2000,4000,6000,8000,10000,12000,14000,16000], "title": "ビーム強度相対値", "titleX": -107, "titleY": 153, "titleAlign": "center", "titleBaseline": "middle", "labelPadding": 12}}
      }
    },
    {
      "data": {"name": "Lfit"},
      "mark": {"type": "line", "color": "#a23ee0", "strokeWidth": 1},
      "encoding": {
        "x": {"field": "x", "type": "quantitative", "axis": {"orient": "top", "values": [0,5,10,15,20,25], "labels": false, "title": null}},
        "y": {"field": "y", "type": "quantitative", "axis": {"orient": "right", "values": [0,2000,4000,6000,8000,10000,12000,14000,16000], "labels": false, "title": null}}
      }
    }
  ]
},
{
  "width": 433, "height": 346,
  "resolve": {"axis": {"x": "independent", "y": "independent"}},
  "layer": [
    {
      "data": {"name": "R"},
      "mark": {"type": "point", "shape": "M-1,-1L1,1M-1,1L1,-1", "filled": false, "stroke": "#009e73", "strokeWidth": 1, "opacity": 0.7, "size": 46},
      "encoding": {
        "x": {"field": "x", "type": "quantitative", "scale": {"domain": [0, 25], "nice": false}, "axis": {"orient": "bottom", "values": [0,5,10,15,20,25], "title": "水平方向距離　cm", "titleFontSize": 25, "titleX": 217, "titleY": 50, "titleAlign": "center", "titleBaseline": "middle", "labelPadding": 9}},
        "y": {"field": "y", "type": "quantitative", "scale": {"domain": [0, 3000], "nice": false}, "axis": {"orient": "left", "values": [0,500,1000,1500,2000,2500,3000], "title": "ビーム強度相対値", "titleFontSize": 24, "titleX": -97, "titleY": 178, "titleAlign": "center", "titleBaseline": "middle", "labelPadding": 12}}
      }
    },
    {
      "data": {"name": "Rfit"},
      "mark": {"type": "line", "color": "#a23ee0", "strokeWidth": 1},
      "encoding": {
        "x": {"field": "x", "type": "quantitative", "axis": {"orient": "top", "values": [0,5,10,15,20,25], "labels": false, "title": null}},
        "y": {"field": "y", "type": "quantitative", "axis": {"orient": "right", "values": [0,500,1000,1500,2000,2500,3000], "labels": false, "title": null}}
      }
    }
  ]
}
]
}
